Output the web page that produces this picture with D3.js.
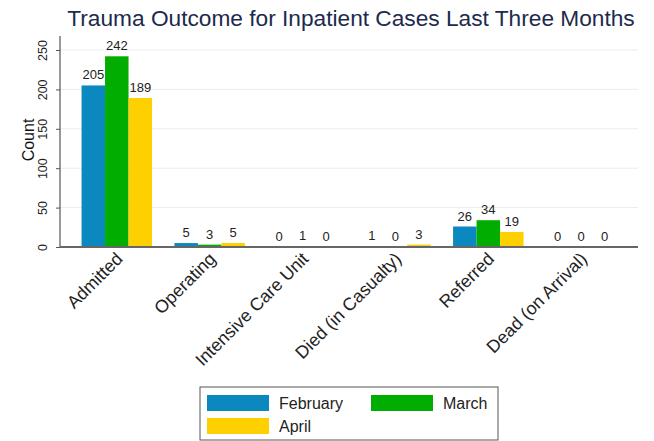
<!DOCTYPE html>
<html><head><meta charset="utf-8">
<script src="https://cdn.jsdelivr.net/npm/d3@7"></script>
<style>body{margin:0;background:#fff}svg{display:block;font-family:"Liberation Sans",Arial,sans-serif}</style>
</head><body><svg id="c" width="654" height="441"></svg>
<script>
const categories = ["Admitted","Operating","Intensive Care Unit","Died (in Casualty)","Referred","Dead (on Arrival)"];
const seriesNames = ["February","March","April"];
const february = [205,5,0,1,26,0];
const march = [242,3,1,0,34,0];
const april = [189,5,0,3,19,0];
const yTicks = [0,50,100,150,200,250];
const colors = ["#0a88bf","#00ad00","#ffd000"];
const title = "Trauma Outcome for Inpatient Cases Last Three Months";
const yLabel = "Count";

const series = [february, march, april];
const svg = d3.select("#c");
const L = 60, R = 638, Y0 = 247;
const x = d3.scaleBand().domain(categories).range([L, R]).paddingInner(0.241).paddingOuter(0.232);
const xs = d3.scaleBand().domain(seriesNames).range([0, x.bandwidth()]);
const y = d3.scaleLinear().domain([0, 250]).range([Y0, 50]);

// gridlines
svg.append("g").selectAll("line").data(yTicks.filter(d => d > 0)).join("line")
  .attr("x1", L).attr("x2", R).attr("y1", d => y(d)).attr("y2", d => y(d))
  .attr("stroke", "#e6edf1").attr("stroke-width", 1);

// bars
const g = svg.append("g");
seriesNames.forEach((s, si) => {
  g.selectAll(null).data(categories).join("rect")
    .attr("x", c => x(c) + xs(s))
    .attr("width", xs.bandwidth())
    .attr("y", (c, i) => y(series[si][i]))
    .attr("height", (c, i) => Y0 - y(series[si][i]))
    .attr("fill", colors[si]);
  g.selectAll(null).data(categories).join("text")
    .attr("x", c => x(c) + xs(s) + xs.bandwidth() / 2)
    .attr("y", (c, i) => y(series[si][i]) - 6)
    .attr("text-anchor", "middle").attr("font-size", 13).attr("fill", "#222")
    .text((c, i) => series[si][i]);
});

// y axis
const yAxis = svg.append("g").attr("transform", `translate(${L},0)`)
  .call(d3.axisLeft(y).tickValues(yTicks).tickSize(4).tickPadding(6));
yAxis.select(".domain").remove();
yAxis.selectAll(".tick line").attr("stroke", "#555");
yAxis.selectAll(".tick text").attr("font-size", 12.5).attr("fill", "#222")
  .attr("font-family", '"Liberation Sans",Arial,sans-serif')
  .attr("transform", "rotate(-90)").attr("x", 0).attr("y", -13)
  .attr("text-anchor", "middle").attr("dy", "0");
svg.append("line").attr("x1", L).attr("x2", L).attr("y1", 36).attr("y2", Y0 + 0.5)
  .attr("stroke", "#555").attr("stroke-width", 1.2);

// x axis
const xAxis = svg.append("g").attr("transform", `translate(0,${Y0})`)
  .call(d3.axisBottom(x).tickSize(0).tickPadding(0));
xAxis.select(".domain").attr("stroke", "#666").attr("stroke-width", 2).attr("d", `M${L},0H${R}`);
xAxis.selectAll(".tick text").attr("font-size", 17.8).attr("fill", "#222")
  .attr("font-family", '"Liberation Sans",Arial,sans-serif')
  .attr("text-anchor", "end").attr("dy", "0")
  .attr("transform", "translate(7,13) rotate(-45)").attr("y", 0).attr("x", 0);

// y label
svg.append("text").attr("transform", `translate(34,140) rotate(-90)`)
  .attr("text-anchor", "middle").attr("font-size", 16).attr("fill", "#111").text(yLabel);

// title
svg.append("text").attr("x", 351).attr("y", 26).attr("text-anchor", "middle")
  .attr("font-size", 22.7).attr("fill", "#1c2a4d").text(title);

// legend
const lg = svg.append("g");
lg.append("rect").attr("x", 200).attr("y", 387).attr("width", 298).attr("height", 53)
  .attr("fill", "#fff").attr("stroke", "#555").attr("stroke-width", 1);
const pos = [[207, 395], [371, 395], [207, 418]];
seriesNames.forEach((s, i) => {
  lg.append("rect").attr("x", pos[i][0]).attr("y", pos[i][1]).attr("width", 62).attr("height", 16).attr("fill", colors[i]);
  lg.append("text").attr("x", pos[i][0] + 72).attr("y", pos[i][1] + 14).attr("font-size", 16).attr("fill", "#222").text(s);
});
</script></body></html>
